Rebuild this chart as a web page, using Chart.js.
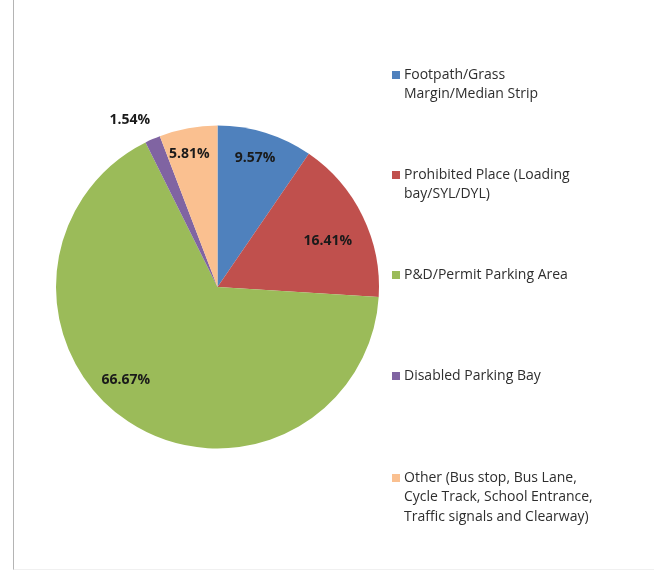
<!DOCTYPE html>
<html>
<head>
<meta charset="utf-8">
<script src="https://cdn.jsdelivr.net/npm/chart.js@4.4.0/dist/chart.umd.min.js"></script>
<style>
    html, body { margin: 0; padding: 0; background: #ffffff; }
    #wrap { position: relative; width: 654px; height: 571px; }
    #frame { position: absolute; left: 13px; top: 0; width: 640px; height: 569px;
             border-left: 1px solid #b4b4b4; border-bottom: 1px solid #f0f0f0; }
    canvas { position: absolute; left: 0; top: 0; }
</style>
</head>
<body>
<div id="wrap">
    <div id="frame"></div>
    <canvas id="pieChart" width="654" height="571"></canvas>
</div>
<script>
var categories = [
    ['Footpath/Grass', 'Margin/Median Strip'],
    ['Prohibited Place (Loading', 'bay/SYL/DYL)'],
    ['P&D/Permit Parking Area'],
    ['Disabled Parking Bay'],
    ['Other (Bus stop, Bus Lane,', 'Cycle Track, School Entrance,', 'Traffic signals and Clearway)']
];
var shares = [9.57, 16.41, 66.67, 1.54, 5.81];
var percentLabels = ['9.57%', '16.41%', '66.67%', '1.54%', '5.81%'];
var colours = ['#4f81bd', '#c0504d', '#9bbb59', '#8064a2', '#fac090'];

// where each value label sits, relative to its slice (radius factor, angle shift in degrees)
var labelPlacement = [
    { r: 0.83, shift: -1 },
    { r: 0.74, shift: 3.5 },
    { r: 0.81, shift: 11 },
    { r: 1.17, shift: -4 },
    { r: 0.84, shift: -1.5 }
];

var labelsPlugin = {
    id: 'valueLabels',
    afterDatasetsDraw: function (chart) {
        var ctx = chart.ctx;
        var arcs = chart.getDatasetMeta(0).data;
        ctx.save();
        ctx.font = 'bold 14px "Open Sans"';
        ctx.fillStyle = '#1a1a1a';
        ctx.textAlign = 'center';
        ctx.textBaseline = 'middle';
        arcs.forEach(function (arc, i) {
            var p = arc.getProps(['x', 'y', 'startAngle', 'endAngle', 'outerRadius']);
            var mid = (p.startAngle + p.endAngle) / 2 + labelPlacement[i].shift * Math.PI / 180;
            var rr = p.outerRadius * labelPlacement[i].r;
            ctx.fillText(percentLabels[i], p.x + Math.cos(mid) * rr, p.y + Math.sin(mid) * rr);
        });
        ctx.restore();
    }
};

var legendPlugin = {
    id: 'sideLegend',
    afterDraw: function (chart) {
        var ctx = chart.ctx;
        var rows = [75, 175, 275, 376, 478];
        ctx.save();
        ctx.font = '14px "Open Sans"';
        ctx.textBaseline = 'middle';
        categories.forEach(function (lines, i) {
            ctx.fillStyle = colours[i];
            ctx.fillRect(392, rows[i] - 4, 8, 8);
            ctx.fillStyle = '#2e2e2e';
            lines.forEach(function (line, j) {
                ctx.fillText(line, 404, rows[i] + j * 19.5);
            });
        });
        ctx.restore();
    }
};

var ctx = document.getElementById('pieChart');
var myPieChart = new Chart(ctx, {
    type: 'pie',
    data: {
        labels: categories.map(function (l) { return l.join(' '); }),
        datasets: [{
            data: shares,
            backgroundColor: colours,
            borderWidth: 0
        }]
    },
    options: {
        responsive: false,
        animation: false,
        layout: {
            padding: { left: 56, right: 275, top: 125, bottom: 122 }
        },
        plugins: {
            legend: { display: false },
            tooltip: { enabled: false }
        }
    },
    plugins: [labelsPlugin, legendPlugin]
});
</script>
</body>
</html>
